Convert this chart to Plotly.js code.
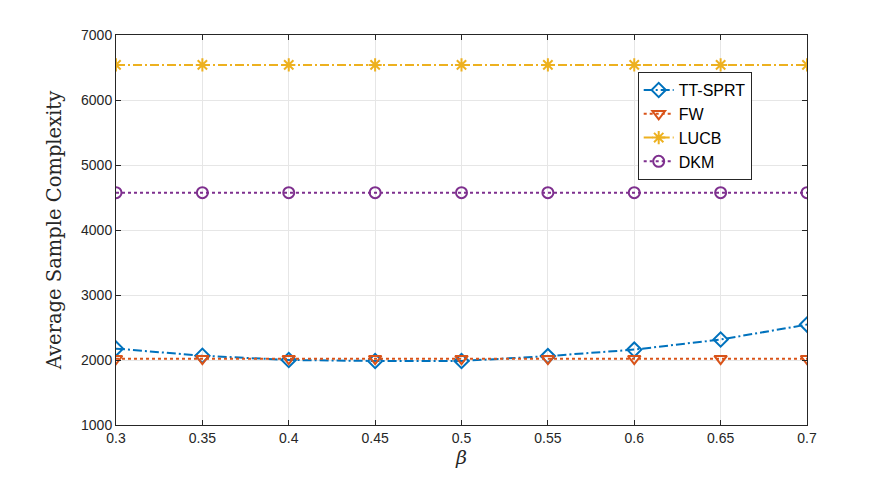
<!DOCTYPE html>
<html>
<head>
<meta charset="utf-8">
<script src="https://cdn.plot.ly/plotly-3.0.1.min.js"></script>
<style>
  html, body { margin: 0; padding: 0; background: #fff; }
  #chart { width: 891px; height: 477px; }
</style>
</head>
<body>
<div id="chart"></div>
<script>
// ===== Data =====
const beta = [0.3, 0.35, 0.4, 0.45, 0.5, 0.55, 0.6, 0.65, 0.7];
const ttSprt = [2175, 2065, 2000, 1985, 1985, 2060, 2160, 2315, 2545];
const fw = [2020, 2020, 2020, 2020, 2020, 2020, 2020, 2020, 2020];
const lucb = [6540, 6540, 6540, 6540, 6540, 6540, 6540, 6540, 6540];
const dkm = [4575, 4575, 4575, 4575, 4575, 4575, 4575, 4575, 4575];

const xTicks = [0.3, 0.35, 0.4, 0.45, 0.5, 0.55, 0.6, 0.65, 0.7];
const yTicks = [1000, 2000, 3000, 4000, 5000, 6000, 7000];

// MATLAB default colour order
const C_BLUE = '#0072BD', C_ORANGE = '#D95319', C_YELLOW = '#EDB120', C_PURPLE = '#7E2F8E';
const DASHDOT = '9px,3px,2px,3px';

function series(name, y, color, dash, symbol) {
  return {
    x: beta, y, name, type: 'scatter', mode: 'lines+markers',
    line: { color, width: 2, dash },
    marker: { symbol, size: 11, color, line: { color, width: 2 } },
  };
}

const traces = [
  series('TT-SPRT', ttSprt, C_BLUE, DASHDOT, 'diamond-open'),
  series('FW', fw, C_ORANGE, 'dot', 'triangle-down-open'),
  series('LUCB', lucb, C_YELLOW, DASHDOT, 'asterisk-open'),
  series('DKM', dkm, C_PURPLE, 'dot', 'circle-open'),
];

const axisBase = {
  showline: true, linecolor: '#262626', linewidth: 1, mirror: 'ticks',
  ticks: 'inside', ticklen: 5, tickcolor: '#262626',
  showgrid: true, gridcolor: '#e6e6e6', gridwidth: 1, zeroline: false,
  tickfont: { family: 'Liberation Sans, Arial, sans-serif', size: 14, color: '#262626' },
};

const layout = {
  paper_bgcolor: '#fff',
  plot_bgcolor: '#fff',
  margin: { l: 116, r: 84, t: 35, b: 52 },
  showlegend: true,
  xaxis: {
    ...axisBase,
    range: [0.3, 0.7],
    tickvals: xTicks,
    ticktext: xTicks.map(String),
    title: { text: 'β', standoff: 4,
      font: { family: 'DejaVu Serif, serif', size: 19, color: '#262626', style: 'italic' } },
  },
  yaxis: {
    ...axisBase,
    range: [1000, 7000],
    tickvals: yTicks,
    title: { text: 'Average Sample Complexity', standoff: 14,
      font: { family: 'DejaVu Serif, serif', size: 19.5, color: '#262626' } },
  },
  legend: {
    x: 0.755, y: 0.905, xanchor: 'left', yanchor: 'top',
    bgcolor: '#fff', bordercolor: '#262626', borderwidth: 1,
    font: { family: 'Liberation Sans, Arial, sans-serif', size: 16, color: '#000' },
    tracegroupgap: 0, itemwidth: 30,
  },
};

Plotly.newPlot('chart', traces, layout, { displayModeBar: false, responsive: false });
</script>
</body>
</html>
